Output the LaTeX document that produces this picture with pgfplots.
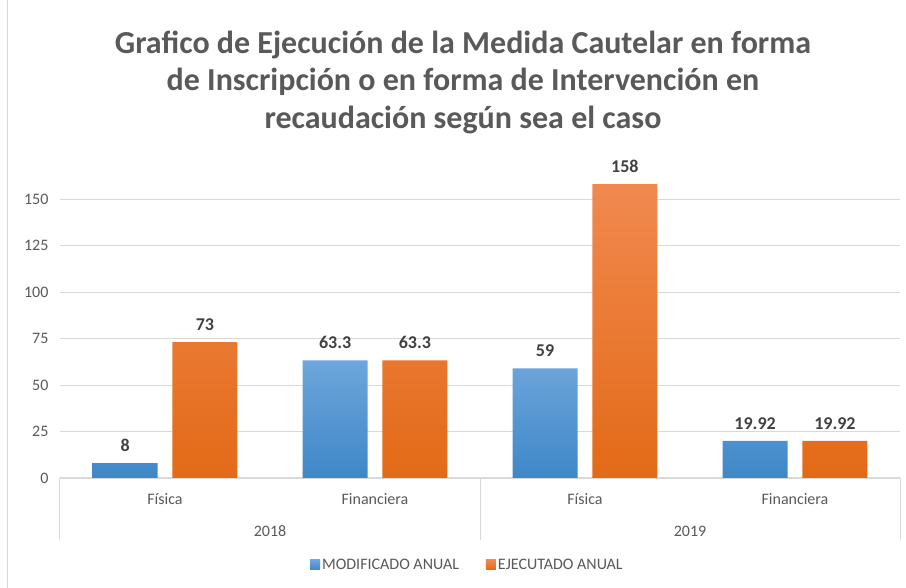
\documentclass[border=0pt]{standalone}
\usepackage{fontspec}
\setmainfont{Carlito}
\usepackage{pgfplots}
\pgfplotsset{compat=1.18}
\definecolor{txt}{HTML}{595959}
\definecolor{lab}{HTML}{404040}
\definecolor{gridc}{HTML}{D9D9D9}
\definecolor{blueT}{HTML}{6EA6DC}
\definecolor{blueB}{HTML}{3E87C8}
\definecolor{orT}{HTML}{F1894F}
\definecolor{orB}{HTML}{E36A17}
\pgfplotstableread{
x y lab
0 8 8
1 63.3 63.3
2 59 59
3 19.92 19.92
}\modif
\pgfplotstableread{
x y lab
0 73 73
1 63.3 63.3
2 158 158
3 19.92 19.92
}\ejec
\begin{document}
\begin{tikzpicture}
\useasboundingbox (-60pt,-110pt) rectangle (846pt,478pt);
\draw[gridc, line width=1pt] (-52pt,-110pt) -- (-52pt,478pt);
\begin{axis}[
  at={(0pt,0pt)}, anchor=south west,
  width=840pt, height=297.6pt, scale only axis,
  xmin=-0.5, xmax=3.5, ymin=0, ymax=160,
  clip=false,
  axis x line*=bottom, axis y line*=left,
  axis line style={-},
  x axis line style={draw=gridc, line width=1pt},
  y axis line style={draw=none},
  ymajorgrids, grid style={gridc, line width=0.8pt},
  ytick={0,25,50,75,100,125,150},
  xtick={0,1,2,3},
  xticklabels={Física,Financiera,Física,Financiera},
  major tick length=0pt,
  /pgf/number format/assume math mode=true,
  yticklabel style={font=\fontsize{16}{19}\selectfont, text=txt, xshift=-8pt},
  xticklabel style={font=\fontsize{16}{19}\selectfont, text=txt, anchor=center, yshift=-21pt},
  ybar, bar width=0.31,
  point meta=explicit symbolic,
  nodes near coords,
  nodes near coords style={font=\bfseries\fontsize{18}{21}\selectfont, text=lab, anchor=south, yshift=8pt},
  legend columns=2,
  legend style={draw=none, at={(0.485,-0.292)}, anchor=center,
    font=\fontsize{16}{19}\selectfont, text=txt,
    /tikz/every even column/.append style={column sep=25pt}},
  legend image code/.code={\fill[#1,draw=none] (0pt,-5pt) rectangle (10pt,5pt);},
]
\addplot[draw=none, top color=blueT, bottom color=blueB, bar shift=-0.19] table[x=x,y=y,meta=lab] {\modif};
\addplot[draw=none, top color=orT, bottom color=orB, bar shift=0.19] table[x=x,y=y,meta=lab] {\ejec};
\legend{MODIFICADO ANUAL, EJECUTADO ANUAL}
\draw[gridc, line width=1pt] (axis cs:-0.5,0) -- ([yshift=-62pt]axis cs:-0.5,0);
\draw[gridc, line width=1pt] (axis cs:1.5,0) -- ([yshift=-62pt]axis cs:1.5,0);
\draw[gridc, line width=1pt] (axis cs:3.5,0) -- ([yshift=-62pt]axis cs:3.5,0);
\node[font=\fontsize{16}{19}\selectfont, text=txt] at ([yshift=-53pt]axis cs:0.5,0) {2018};
\node[font=\fontsize{16}{19}\selectfont, text=txt] at ([yshift=-53pt]axis cs:2.5,0) {2019};
\end{axis}
\node[font=\bfseries\fontsize{32}{38}\selectfont, text=txt] at (403pt,433pt) {Grafico de Ejecución de la Medida Cautelar en forma};
\node[font=\bfseries\fontsize{32}{38}\selectfont, text=txt] at (403pt,396pt) {de Inscripción o en forma de Intervención en};
\node[font=\bfseries\fontsize{32}{38}\selectfont, text=txt] at (403pt,358pt) {recaudación según sea el caso};
\end{tikzpicture}
\end{document}
